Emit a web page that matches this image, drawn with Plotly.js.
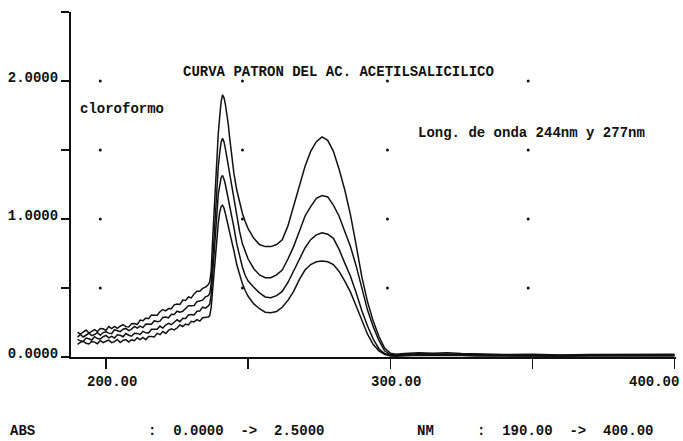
<!DOCTYPE html>
<html>
<head>
<meta charset="utf-8">
<script src="https://cdn.plot.ly/plotly-3.0.1.min.js"></script>
<style>
  html, body { margin: 0; padding: 0; background: #fff; }
  #chart { width: 683px; height: 441px; }
</style>
</head>
<body>
<div id="chart"></div>
<script>
// Wavelength grid (nm): 1 nm steps through the noisy UV region, finer around the 241 nm band
const wavelength = [
  190,191,192,193,194,195,196,197,198,199,200,201,202,203,204,205,206,207,208,209,
  210,211,212,213,214,215,216,217,218,219,220,221,222,223,224,225,226,227,228,229,
  230,231,232,233,234,235,236,
  236.5,237,237.5,238,238.5,239,239.5,240,240.5,241,241.5,242,242.5,243,243.5,244,
  245,246,247,248,249,250,
  252,254,256,258,260,262,264,266,268,270,272,274,276,278,280,282,284,286,288,290,
  292,294,296,298,300,302,
  305,310,315,320,325,330,335,340,
  350,360,370,380,390,400
];

// Absorbance of the four standards (highest concentration first)
const absStd1 = [
  .180,.165,.181,.195,.173,.186,.199,.184,.206,.204,.192,.220,.206,.222,.208,.223,.234,.220,.218,.241,
  .242,.235,.268,.263,.282,.278,.304,.303,.302,.328,.344,.334,.351,.350,.378,.384,.381,.413,.410,.435,
  .428,.457,.477,.476,.497,.506,.525,
  .545,.62,.84,1.06,1.28,1.46,1.62,1.74,1.85,1.90,1.88,1.83,1.77,1.69,1.59,1.50,
  1.33,1.21,1.12,1.04,0.98,0.93,
  0.86,0.815,0.80,0.80,0.815,0.85,0.95,1.09,1.24,1.38,1.49,1.56,1.595,1.57,1.49,1.36,1.21,1.03,0.81,0.58,
  0.40,0.26,0.15,0.065,0.028,0.020,
  0.025,0.030,0.028,0.030,0.025,0.022,0.020,0.018,
  0.020,0.015,0.018,0.020,0.022,0.020
];
const absStd2 = [
  .144,.163,.145,.160,.172,.155,.163,.177,.158,.177,.183,.173,.169,.198,.191,.184,.201,.207,.191,.202,
  .222,.209,.224,.213,.239,.239,.238,.263,.256,.260,.287,.290,.284,.310,.308,.332,.324,.331,.355,.372,
  .371,.373,.401,.409,.412,.436,.445,
  .46,.53,.68,.87,1.04,1.22,1.38,1.48,1.555,1.585,1.56,1.51,1.45,1.39,1.32,1.26,
  1.14,1.01,0.91,0.82,0.76,0.71,
  0.64,0.595,0.575,0.575,0.595,0.63,0.71,0.80,0.91,1.02,1.09,1.15,1.17,1.16,1.10,1.02,0.91,0.80,0.66,0.50,
  0.34,0.22,0.12,0.045,0.018,0.014,
  0.020,0.024,0.022,0.025,0.020,0.018,0.016,0.015,
  0.016,0.012,0.014,0.016,0.018,0.016
];
const absStd3 = [
  .128,.117,.113,.137,.132,.123,.147,.134,.130,.148,.156,.139,.149,.138,.161,.157,.147,.170,.158,.151,
  .172,.171,.163,.186,.175,.174,.201,.202,.201,.224,.210,.232,.244,.234,.249,.270,.256,.280,.279,.304,
  .307,.305,.332,.333,.361,.354,.370,
  .385,.45,.58,.73,.87,1.03,1.18,1.26,1.30,1.315,1.29,1.25,1.20,1.15,1.09,1.04,
  0.94,0.82,0.73,0.65,0.59,0.55,
  0.505,0.465,0.435,0.43,0.445,0.475,0.54,0.625,0.71,0.79,0.85,0.885,0.90,0.89,0.86,0.78,0.68,0.585,0.465,0.335,
  0.225,0.13,0.06,0.025,0.012,0.010,
  0.015,0.018,0.016,0.018,0.014,0.012,0.011,0.010,
  0.012,0.009,0.010,0.012,0.013,0.012
];
const absStd4 = [
  .091,.106,.114,.099,.094,.113,.108,.096,.120,.104,.114,.122,.104,.111,.127,.105,.120,.126,.109,.125,
  .118,.139,.126,.142,.126,.149,.149,.145,.171,.162,.185,.171,.193,.204,.196,.210,.232,.221,.239,.232,
  .259,.254,.271,.260,.285,.287,.290,
  .30,.36,.48,.62,.74,.87,.97,1.05,1.09,1.10,1.08,1.04,1.00,0.95,0.90,0.86,
  0.77,0.67,0.60,0.53,0.48,0.44,
  0.385,0.35,0.325,0.32,0.33,0.36,0.41,0.475,0.56,0.63,0.67,0.69,0.695,0.69,0.67,0.62,0.55,0.47,0.37,0.26,
  0.165,0.09,0.045,0.02,0.008,0.006,
  0.010,0.012,0.011,0.012,0.010,0.008,0.007,0.006,
  0.008,0.006,0.007,0.008,0.009,0.008
];

// Dotted reference grid printed by the recorder
const gridDotX = [198, 248, 299, 348.5];
const gridDotY = [0.5, 1.0, 1.5, 2.0];

// Axis ticks and their printed labels
const xTickVals = [200, 250, 300, 350, 400];
const xLabelVals = [200, 300, 400];
const xLabelText = ['200.00', '300.00', '400.00'];
const yTickVals = [0, 0.5, 1.0, 1.5, 2.0, 2.5];
const yTickText = ['0.0000', '', '1.0000', '', '2.0000', ''];

// Printed texts
const titleText = 'CURVA PATRON DEL AC. ACETILSALICILICO';
const solventText = 'cloroformo';
const waveText = 'Long. de onda 244nm y 277nm';
const absName = 'ABS';
const absScale = ':  0.0000  ->  2.5000';
const nmName = 'NM';
const nmScale = ':  190.00  ->  400.00';

const mono = 'Liberation Mono, DejaVu Sans Mono, monospace';
const ink = '#111';
const nb = s => s.replace(/ /g, '\u00A0');

const spectra = [absStd1, absStd2, absStd3, absStd4].map(y => ({
  type: 'scatter', mode: 'lines', x: wavelength, y: y,
  line: { color: ink, width: 1.5 }, hoverinfo: 'skip', showlegend: false
}));

const dx = [], dy = [];
gridDotX.forEach(x => gridDotY.forEach(y => { dx.push(x); dy.push(y); }));
const dots = {
  type: 'scatter', mode: 'markers', x: dx, y: dy,
  marker: { color: ink, size: 3 }, hoverinfo: 'skip', showlegend: false
};

const textFont = { family: mono, size: 14, color: ink, weight: 'bold' };

const annotations = [
  { x: 226.5, y: 2.065, xref: 'x', yref: 'y', text: titleText, xanchor: 'left', yanchor: 'middle', showarrow: false, font: textFont },
  { x: 190.1, y: 1.80, xref: 'x', yref: 'y', text: solventText, xanchor: 'left', yanchor: 'middle', showarrow: false, font: textFont },
  { x: 309.0, y: 1.623, xref: 'x', yref: 'y', text: waveText, xanchor: 'left', yanchor: 'middle', showarrow: false, font: textFont },
  { x: -0.104, y: -0.2145, xref: 'paper', yref: 'paper', text: absName, xanchor: 'left', yanchor: 'middle', showarrow: false, font: textFont },
  { x: 0.124, y: -0.2145, xref: 'paper', yref: 'paper', text: nb(absScale), xanchor: 'left', yanchor: 'middle', showarrow: false, font: textFont },
  { x: 0.569, y: -0.2145, xref: 'paper', yref: 'paper', text: nmName, xanchor: 'left', yanchor: 'middle', showarrow: false, font: textFont },
  { x: 0.668, y: -0.2145, xref: 'paper', yref: 'paper', text: nb(nmScale), xanchor: 'left', yanchor: 'middle', showarrow: false, font: textFont }
];
xLabelVals.forEach((v, i) => {
  const last = i === xLabelVals.length - 1;
  annotations.push({
    x: v, y: -0.0725, xref: 'x', yref: 'paper', text: xLabelText[i],
    xanchor: last ? 'right' : 'center', xshift: last ? 6 : 6,
    yanchor: 'middle', showarrow: false, font: textFont
  });
});

const layout = {
  width: 683, height: 441,
  margin: { l: 71, r: 7, t: 12, b: 84, pad: 0 },
  paper_bgcolor: '#fff', plot_bgcolor: '#fff',
  showlegend: false,
  xaxis: {
    range: [187.7, 400.5], showgrid: false, zeroline: false,
    showline: true, linecolor: ink, linewidth: 2,
    ticks: 'outside', ticklen: 10, tickwidth: 1.5, tickcolor: ink,
    tickvals: xTickVals, showticklabels: false
  },
  yaxis: {
    range: [0, 2.5], showgrid: false, zeroline: false,
    showline: true, linecolor: ink, linewidth: 2,
    ticks: 'outside', ticklen: 8, tickwidth: 1.5, tickcolor: ink,
    tickvals: yTickVals, ticktext: yTickText, ticklabelshift: -4,
    tickfont: textFont
  },
  annotations: annotations
};

Plotly.newPlot('chart', spectra.concat([dots]), layout, { staticPlot: true, displayModeBar: false });
</script>
</body>
</html>
